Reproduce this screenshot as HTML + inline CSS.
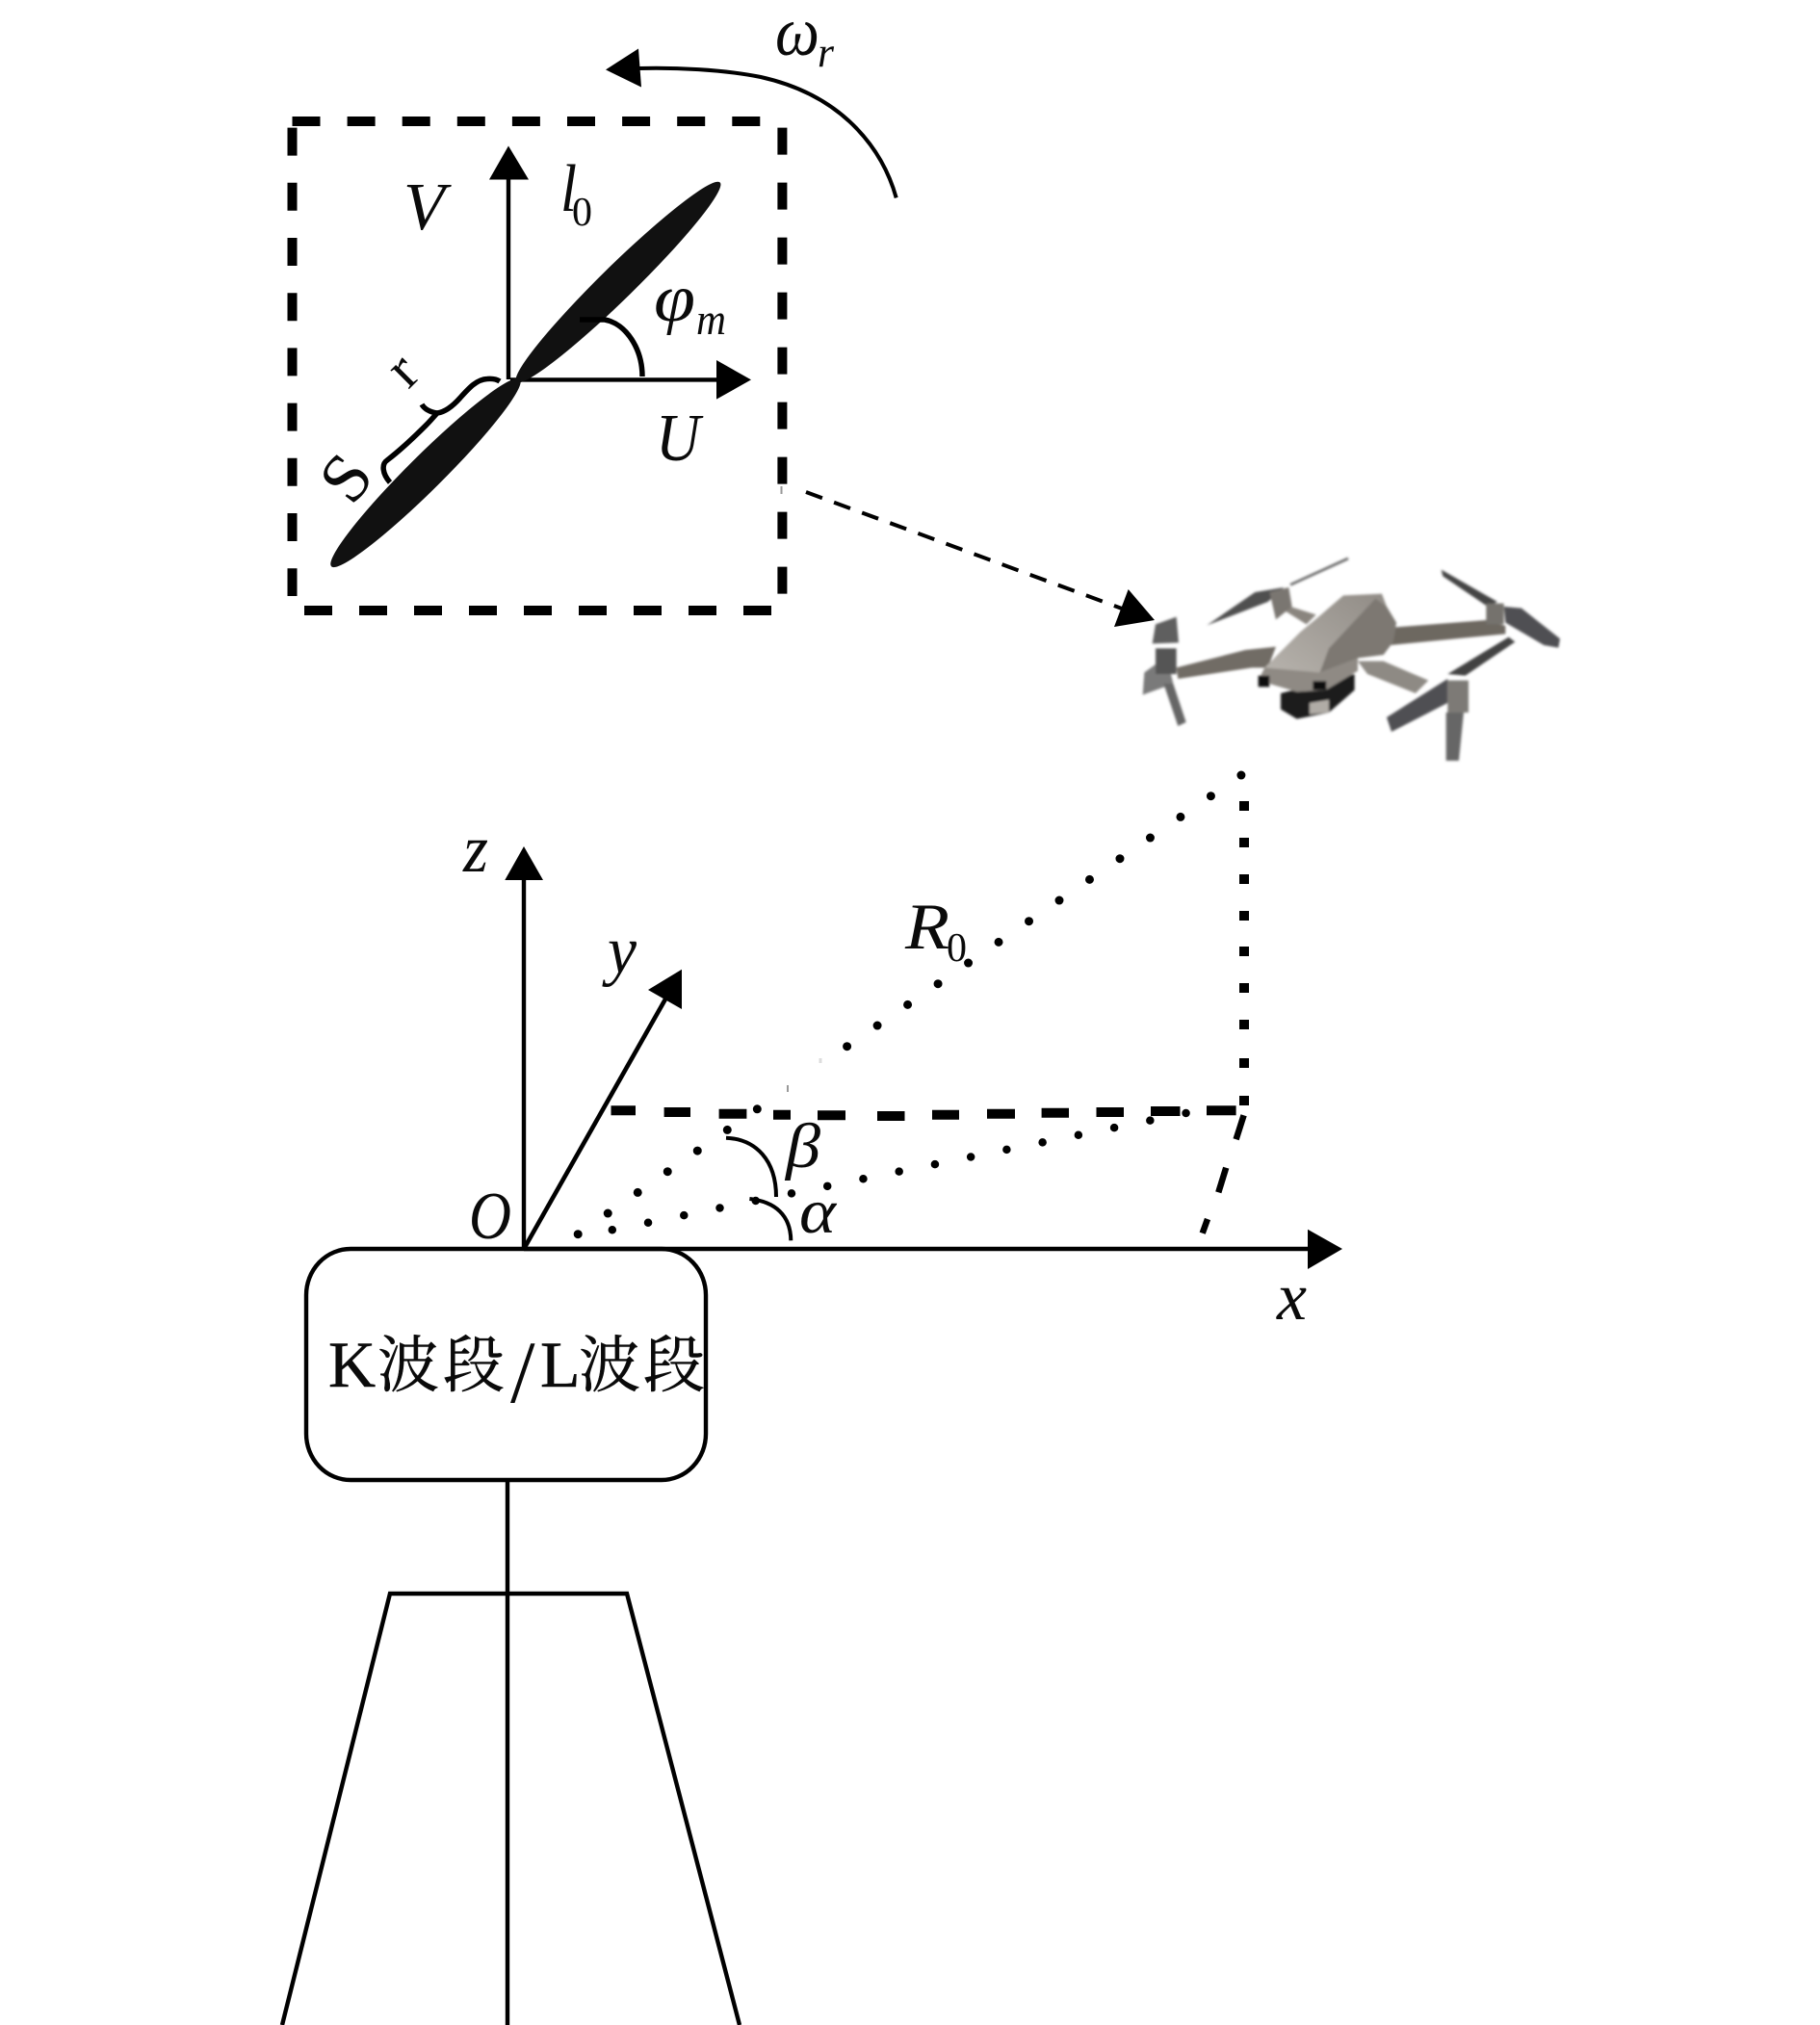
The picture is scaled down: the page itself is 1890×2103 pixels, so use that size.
<!DOCTYPE html>
<html><head><meta charset="utf-8"><style>
html,body{margin:0;padding:0;background:#fff}
svg{display:block}
text{font-family:"Liberation Serif","Noto Serif CJK SC",serif;fill:#0a0a0a}
.i{font-style:italic}
.c{stroke:#0a0a0a;stroke-width:.5}
</style></head><body>
<svg xmlns="http://www.w3.org/2000/svg" width="1890" height="2103" viewBox="0 0 1890 2103">
<defs><filter id="b" x="-5%" y="-5%" width="110%" height="110%"><feGaussianBlur stdDeviation="3.6"/></filter>
<linearGradient id="g" x1="0" y1="1" x2="1" y2="0"><stop offset="0" stop-color="#bcb8b2"/><stop offset="1" stop-color="#8f8a84"/></linearGradient></defs>
<rect width="1890" height="2103" fill="#fff"/>

<!-- dashed box -->
<g fill="none" stroke="#000" stroke-width="10">
<path d="M303.5 126H790" stroke-dasharray="29 28.1"/>
<path d="M812.4 132.6V617" stroke-dasharray="28 29"/>
<path d="M303.5 132.6V619" stroke-dasharray="29 28.2"/>
<path d="M316 634H801" stroke-dasharray="29 28"/>
</g>
<path d="M811.5 505V513" stroke="#999" stroke-width="2"/>

<!-- rotation arrow -->
<path d="M930.7 205.4C918 160 880 100 790 80C750 72 700 70 663 71" fill="none" stroke="#000" stroke-width="4"/>
<polygon points="629,72.4 663,50.5 666,90.5" fill="#000"/>

<!-- V and U axes -->
<path d="M528 186V394" stroke="#000" stroke-width="4.4"/>
<polygon points="528,151.5 508,186.5 549,186.5" fill="#000"/>
<path d="M530 394.4H745" stroke="#000" stroke-width="4.4"/>
<polygon points="780,394.4 744,374 744,414.6" fill="#000"/>

<!-- blade -->
<ellipse cx="642" cy="293" rx="148" ry="17.5" transform="rotate(-44.4 642 293)" fill="#111"/>
<ellipse cx="442" cy="491" rx="138" ry="18" transform="rotate(-44.8 442 491)" fill="#111"/>
<path d="M602 332H628C650 336 667 362 667 391" fill="none" stroke="#000" stroke-width="5.5"/>
<path d="M405 501C397 492 396 482 402 478C415 468 432 452 442 442C448 436 452 431 454 429C447 428 441 425 438 420M454 429C462 428 470 422 478 413C487 403 495 394 506 393.5C512 393 516 394 519 396" fill="none" stroke="#000" stroke-width="5.5"/>

<!-- top labels -->
<text class="i" x="419" y="238" font-size="70" textLength="43" lengthAdjust="spacingAndGlyphs">V</text>
<text class="i" x="582" y="219" font-size="70" textLength="17" lengthAdjust="spacingAndGlyphs">l</text>
<text x="594" y="234" font-size="42">0</text>
<text class="i" x="679" y="333" font-size="70" textLength="43" lengthAdjust="spacingAndGlyphs">φ</text>
<text class="i" x="723" y="347" font-size="45" textLength="31" lengthAdjust="spacingAndGlyphs">m</text>
<text class="i" x="681" y="478" font-size="70" textLength="46" lengthAdjust="spacingAndGlyphs">U</text>
<text class="i" x="805" y="57" font-size="72" textLength="46" lengthAdjust="spacingAndGlyphs">ω</text>
<text class="i" x="849" y="69" font-size="44" textLength="17" lengthAdjust="spacingAndGlyphs">r</text>
<text x="0" y="0" font-size="72" text-anchor="middle" transform="translate(378,511) rotate(-52)">S</text>
<text x="0" y="0" font-size="60" text-anchor="middle" transform="translate(431,398) rotate(-45)">r</text>

<!-- dashed arrow -->
<path d="M837 511L1165 632" stroke="#000" stroke-width="4" stroke-dasharray="18 13" fill="none"/>
<polygon points="1199,644 1171.7,612 1157,651" fill="#000"/>

<!-- drone -->
<g transform="translate(1150 550) scale(.33333)"><g filter="url(#b)">
<polygon points="540,245 570,240 650,265 620,295" fill="#8a857f"/>
<polygon points="890,305 1180,282 1240,300 1240,325 880,360" fill="#6d6760"/>
<polygon points="215,430 430,375 525,365 500,430 450,430 220,465" fill="#716c65"/>
<polygon points="780,410 860,410 1000,470 960,510 810,450" fill="#8e8a84"/>
<polygon points="310,298 460,195 550,180 500,225" fill="#4f4f50"/>
<path d="M570 172L750 90" stroke="#666" stroke-width="8"/>
<polygon points="505,195 565,180 575,240 525,280" fill="#7a7671"/>
<polygon points="1040,125 1215,225 1185,240 1045,145" fill="#444"/>
<polygon points="1235,240 1290,245 1410,340 1405,368 1360,360 1240,290" fill="#505052"/>
<rect x="1180" y="230" width="55" height="65" fill="#75726d"/>
<polygon points="870,585 1060,465 1060,540 885,630" fill="#505052"/>
<polygon points="1060,450 1250,335 1270,350 1115,455" fill="#424242"/>
<rect x="1060" y="470" width="65" height="100" fill="#7d7a76"/>
<polygon points="1055,570 1110,570 1095,720 1055,720" fill="#666"/>
<polygon points="150,295 215,272 222,352 140,355" fill="#5e5e5e"/>
<polygon points="115,445 185,395 205,480 110,515" fill="#7a7a7a"/>
<rect x="150" y="370" width="65" height="80" fill="#555"/>
<polygon points="175,480 205,480 245,600 220,612" fill="#666"/>
<polygon points="540,510 770,450 770,500 690,570 590,590 540,560" fill="#1e1e1e"/>
<polygon points="630,540 690,530 690,570 630,575" fill="#b0aca6"/>
<polygon points="735,205 855,200 870,240 900,290 890,350 860,390 780,400 780,440 680,500 590,505 470,470 490,430 600,320 660,270" fill="url(#g)"/>
<polygon points="835,215 870,240 900,290 890,350 860,390 780,400 660,450 690,370" fill="#7d7872"/>
<polygon points="470,470 490,430 660,445 780,400 780,440 680,500 590,505" fill="#8f8a84"/>
<rect x="470" y="455" width="35" height="35" fill="#111"/>
<rect x="640" y="472" width="42" height="28" fill="#111"/>
</g></g>

<!-- axes -->
<path d="M544 912V1297" stroke="#000" stroke-width="4.4"/>
<polygon points="544,879 524.3,914 564,914" fill="#000"/>
<path d="M544 1297L691.5 1036.7" stroke="#000" stroke-width="4.6"/>
<polygon points="708,1006.7 673,1028 708,1048" fill="#000"/>
<path d="M544 1297H1360" stroke="#000" stroke-width="4.4"/>
<polygon points="1394,1297 1358,1276.7 1358,1318" fill="#000"/>

<!-- dotted -->
<g fill="none" stroke="#000" stroke-width="9" stroke-linecap="round">
<path d="M600.2 1281.7L786.4 1151.7" stroke-dasharray="0 37.83"/>
<path d="M879.6 1086.7L1289 805" stroke-dasharray="0 38.22"/>
<path d="M635.8 1277.3L1231.6 1156" stroke-dasharray="0 38" stroke-width="8.5"/>
</g>
<path d="M818 1127V1134" stroke="#999" stroke-width="2"/>
<path d="M852 1099V1104" stroke="#ddd" stroke-width="3"/>

<!-- vertical dots -->
<g fill="#000">
<rect x="1287" y="832" width="10" height="10"/><rect x="1287" y="870" width="10" height="10"/><rect x="1287" y="908" width="10" height="10"/><rect x="1287" y="946" width="10" height="10"/><rect x="1287" y="983" width="10" height="10"/><rect x="1287" y="1021" width="10" height="10"/><rect x="1287" y="1059" width="10" height="10"/><rect x="1287" y="1099" width="10" height="10"/><rect x="1287" y="1138" width="10" height="10"/>
</g>

<!-- horizontal dashes -->
<g stroke="#000" stroke-width="10">
<path d="M634.5 1153.3H660"/><path d="M689.6 1155H717"/><path d="M746.6 1156.7H775.4"/><path d="M803 1157.7H821"/><path d="M849 1158.3H878"/><path d="M911 1159H939.5"/><path d="M968 1157.7H996"/><path d="M1025 1156.7H1054"/><path d="M1081.6 1155.7H1110"/><path d="M1138.5 1155H1167"/><path d="M1195 1154H1225.5"/><path d="M1253 1153.3H1283.6"/>
</g>
<!-- slanted dashes -->
<g stroke="#000" stroke-width="6.5">
<path d="M1283.6 1183.3L1291.6 1158.3"/><path d="M1265.3 1238.3L1273.2 1212.7"/><path d="M1248.7 1280.7L1254 1266"/>
</g>

<!-- angle arcs -->
<path d="M754 1181.7C785 1183 806 1205 806 1243" fill="none" stroke="#000" stroke-width="4"/>
<path d="M778.4 1245C805 1248 821 1262 821.3 1288.3" fill="none" stroke="#000" stroke-width="4"/>

<!-- lower labels -->
<text class="i" x="487" y="1286" font-size="70" textLength="44" lengthAdjust="spacingAndGlyphs">O</text>
<text class="i" x="481" y="905" font-size="70" textLength="26" lengthAdjust="spacingAndGlyphs">z</text>
<text class="i" x="631" y="1010" font-size="70" textLength="30" lengthAdjust="spacingAndGlyphs">y</text>
<text class="i" x="940" y="985" font-size="68" textLength="46" lengthAdjust="spacingAndGlyphs">R</text>
<text x="983" y="998" font-size="42">0</text>
<text class="i" x="816" y="1212" font-size="66" textLength="36" lengthAdjust="spacingAndGlyphs">β</text>
<text class="i" x="830" y="1280" font-size="66" textLength="38" lengthAdjust="spacingAndGlyphs">α</text>
<text class="i" x="1326" y="1370" font-size="70" textLength="31" lengthAdjust="spacingAndGlyphs">x</text>

<!-- radar box -->
<rect x="318" y="1297" width="415" height="240" rx="46" ry="48" fill="none" stroke="#000" stroke-width="4.4"/>
<text class="c" y="1440" font-size="68" x="341">K</text>
<text class="c" y="1440" font-size="64" x="392 460">波段</text>
<text y="1456" font-size="92" x="530">/</text>
<text class="c" y="1440" font-size="68" x="561">L</text>
<text class="c" y="1440" font-size="64" x="601 668">波段</text>

<!-- tripod -->
<path d="M527 1537V2103" stroke="#000" stroke-width="4.4" fill="none"/>
<path d="M293 2103L405 1655H651L768 2103" stroke="#000" stroke-width="4.4" fill="none"/>
</svg>
</body></html>
